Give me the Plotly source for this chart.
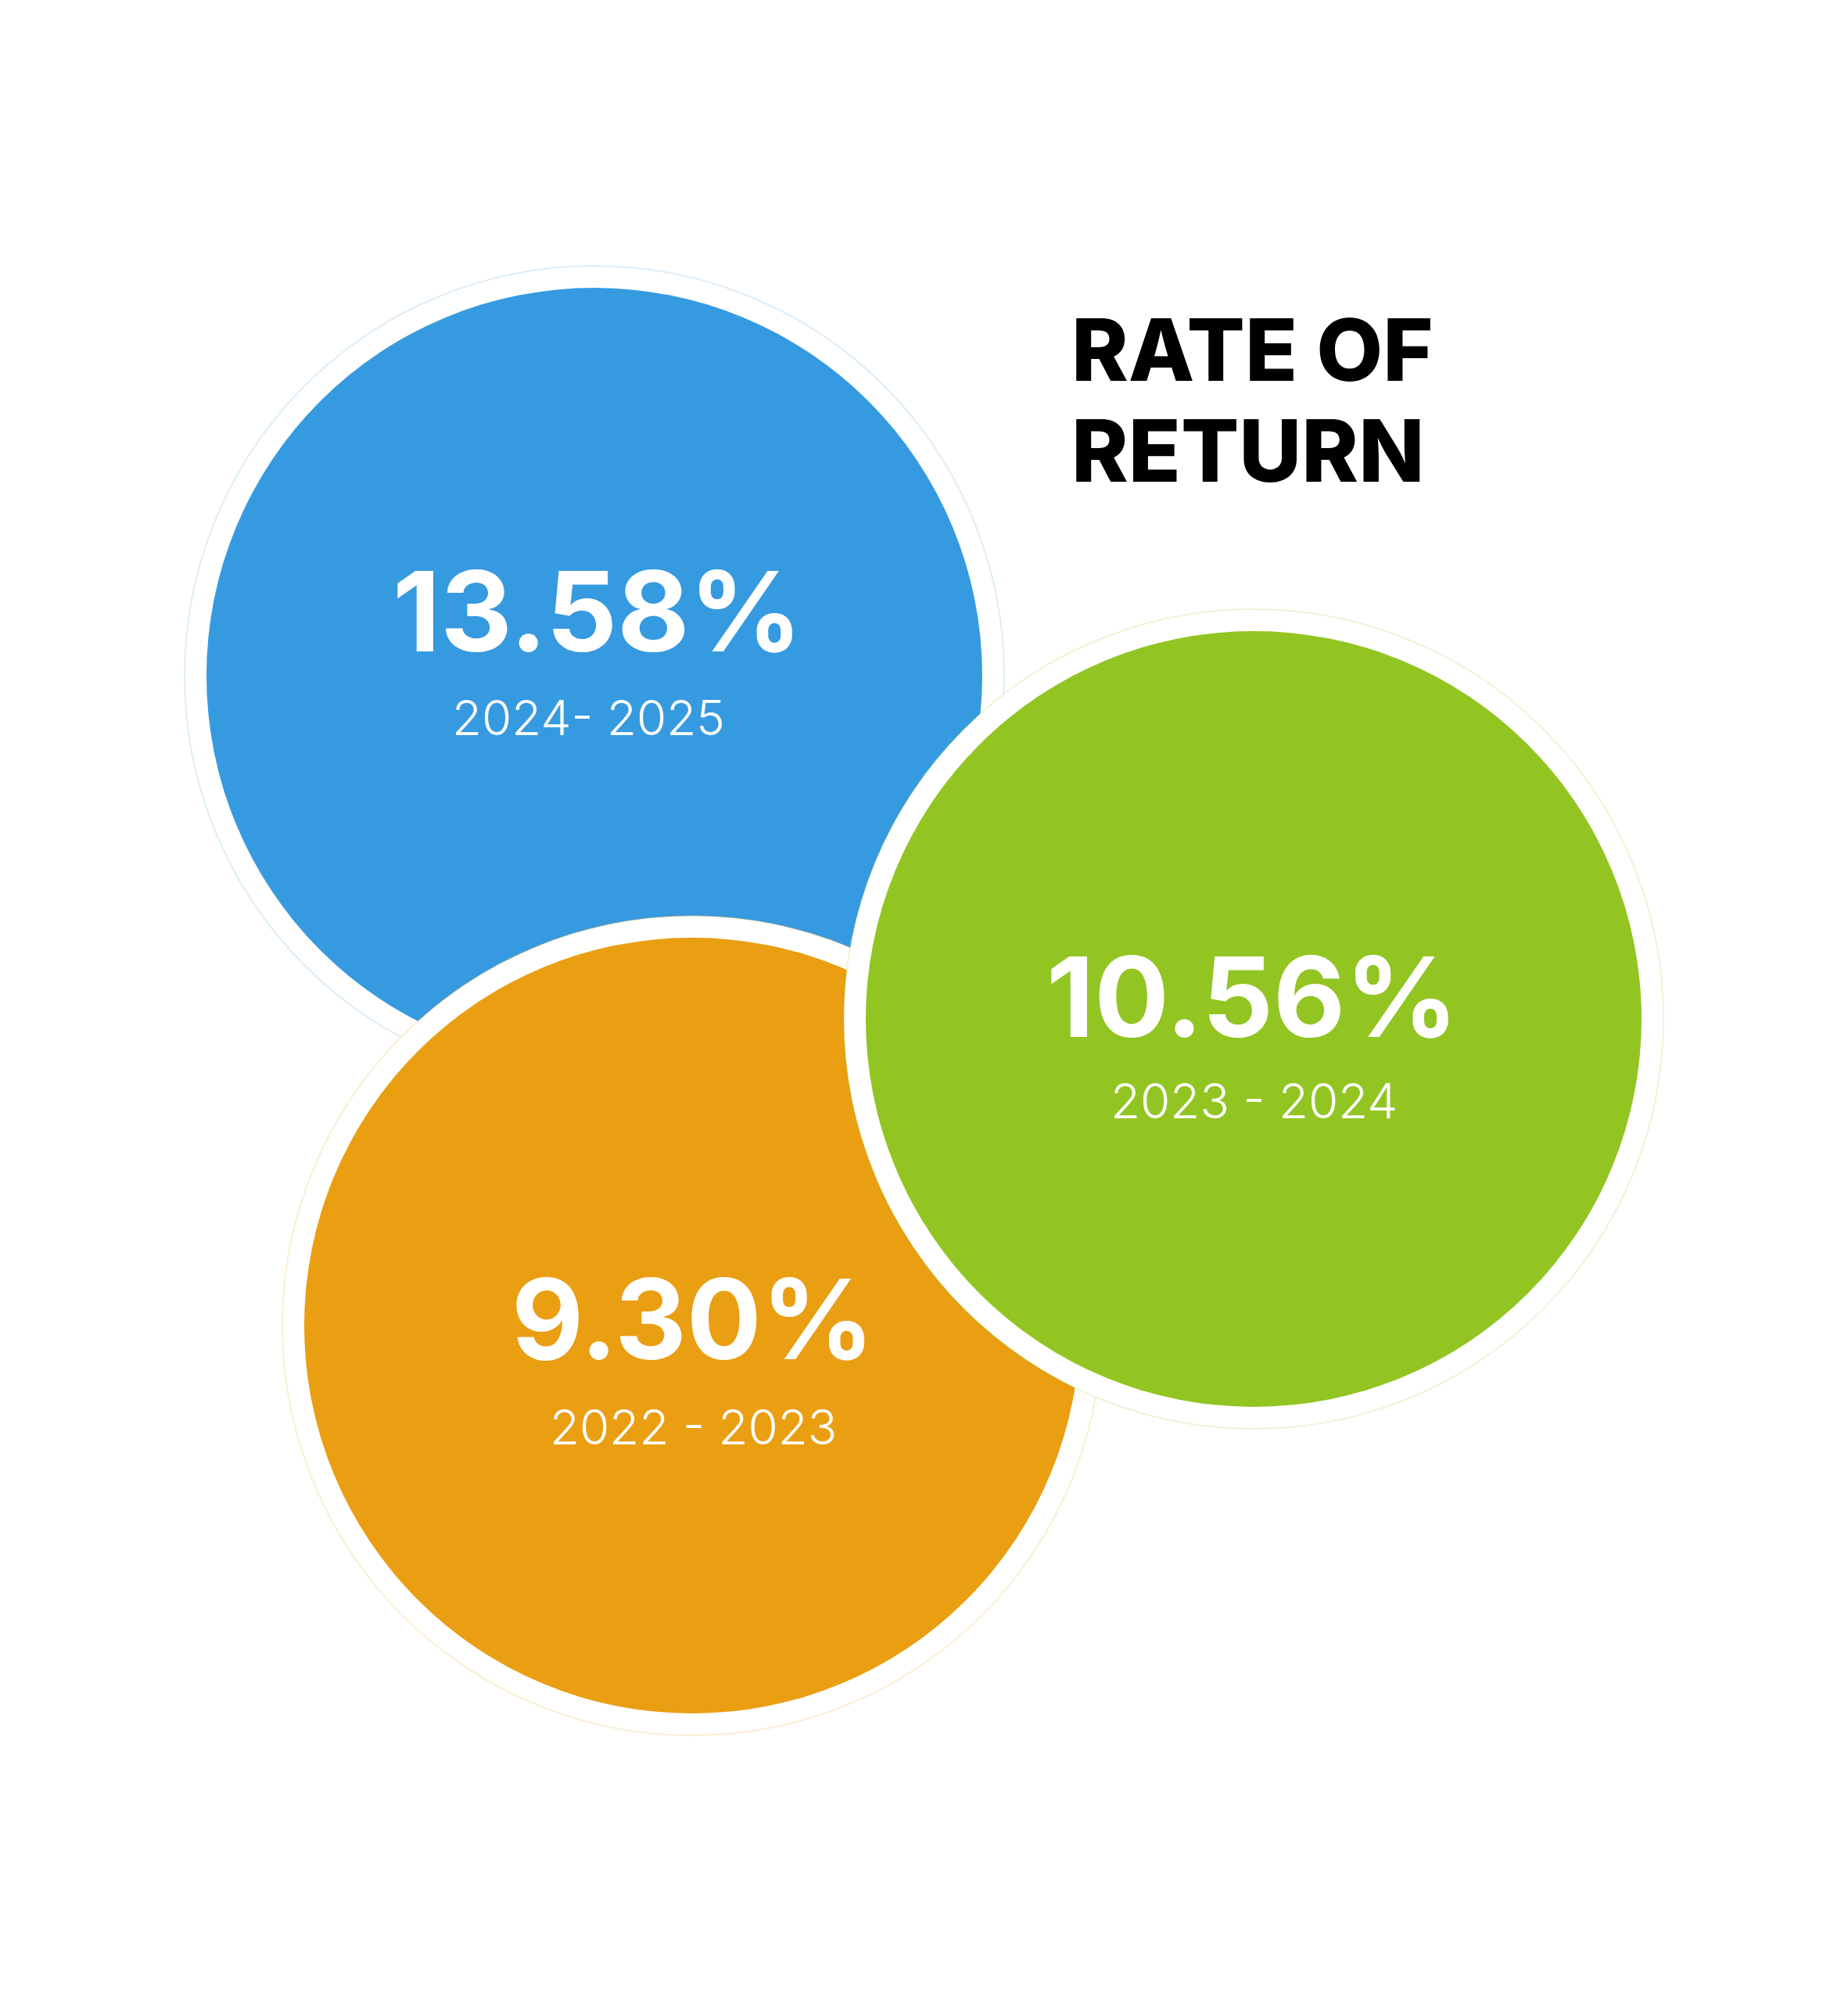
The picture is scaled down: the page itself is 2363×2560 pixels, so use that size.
import plotly.graph_objects as go

# data
periods = ["2024- 2025", "2022 - 2023", "2023 - 2024"]
returns = [13.58, 9.30, 10.56]
colors = ["#369AE0", "#EA9E12", "#92C522"]
tints = ["rgba(54,154,224,0.18)", "rgba(234,158,18,0.18)", "rgba(146,197,34,0.18)"]

title_lines = ["RATE OF", "RETURN"]

# layout of the bubbles (page pixels)
W, H = 2363, 2560
PAGE = 8        # body margin of the html page
centers_x = [760, 885, 1603]
centers_y = [864, 1695, 1303]
disk = 992      # coloured diameter
ring = 28       # white border
value_y = [781, 1686, 1274]
value_x = [764, 886, 1601]
year_y = [917, 1824, 1407]
year_x = [752, 886, 1603]
title_y = [447, 576]

fig = go.Figure()

# blue first, then orange, then green on top
for i in range(len(returns)):
    fig.add_trace(go.Scatter(
        x=[centers_x[i]], y=[centers_y[i]],
        mode='markers',
        marker=dict(size=disk + 2 * ring, color='white',
                    line=dict(color=tints[i], width=2)),
        hoverinfo='skip', showlegend=False
    ))
    fig.add_trace(go.Scatter(
        x=[centers_x[i]], y=[centers_y[i]],
        mode='markers',
        marker=dict(size=disk, color=colors[i], line=dict(width=0)),
        hoverinfo='skip', showlegend=False
    ))

for i in range(len(returns)):
    fig.add_annotation(
        x=value_x[i], y=value_y[i], text=f"{returns[i]:.2f}%",
        showarrow=False, xanchor='center', yanchor='middle',
        font=dict(family="Inter", size=142, color='white', weight=700)
    )
    fig.add_annotation(
        x=year_x[i], y=year_y[i], text=periods[i],
        showarrow=False, xanchor='center', yanchor='middle',
        font=dict(family="Inter", size=62, color='white', weight=300)
    )

for line, ty in zip(title_lines, title_y):
    fig.add_annotation(
        x=1368, y=ty, text=line,
        showarrow=False, xanchor='left', yanchor='middle', align='left',
        font=dict(family="Inter", size=110, color='black', weight=800)
    )

fig.update_layout(
    width=W, height=H,
    margin=dict(l=0, r=0, t=0, b=0),
    paper_bgcolor='white', plot_bgcolor='white',
    xaxis=dict(range=[PAGE, W + PAGE], visible=False, fixedrange=True),
    yaxis=dict(range=[H + PAGE, PAGE], visible=False, fixedrange=True),
    showlegend=False
)

fig.write_html("out.html")
